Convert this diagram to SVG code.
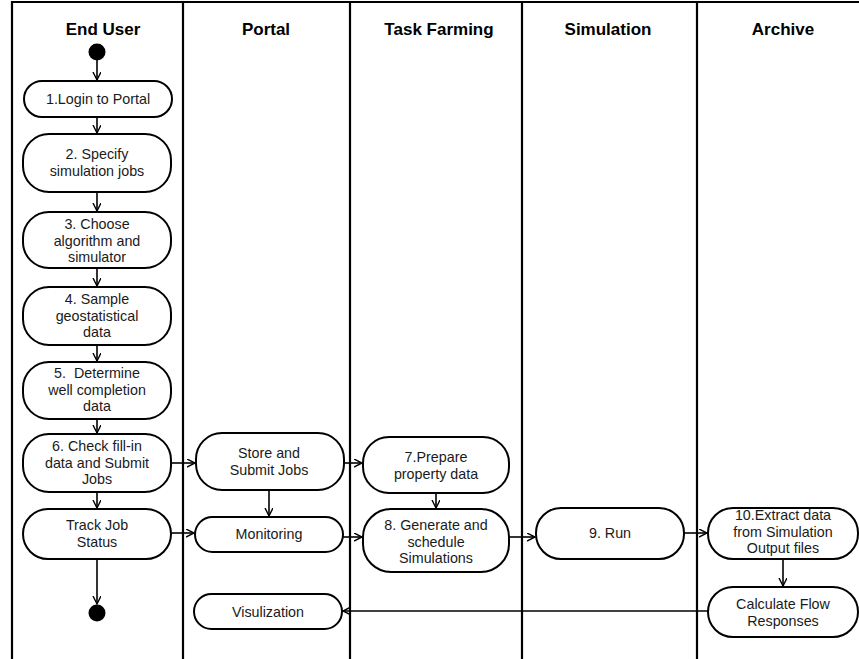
<svg xmlns="http://www.w3.org/2000/svg" width="859" height="659" viewBox="0 0 859 659">
<style>
.lane{stroke:#000;stroke-width:2.2;fill:none}
.hdr{font-family:"Liberation Sans",Arial,sans-serif;font-size:17px;font-weight:bold;text-anchor:middle;fill:#000}
.box{fill:#fff;stroke:#000;stroke-width:2}
.t{font-family:"Liberation Sans",Arial,sans-serif;font-size:14.3px;text-anchor:middle;fill:#1a1a1a;white-space:pre}
.c{stroke:#000;stroke-width:1.6;fill:none;marker-end:url(#arr)}
.dot{fill:#000}
</style>
<defs>
<marker id="arr" markerWidth="10" markerHeight="10" refX="8" refY="4" orient="auto" markerUnits="userSpaceOnUse">
<path d="M0,0 L8,4 L0,8" fill="none" stroke="#000" stroke-width="1.4"/>
</marker>
</defs>
<rect width="859" height="659" fill="#fff"/>
<g id="lanes">
<path class="lane" d="M12,659 V2 H859"/>
<path class="lane" d="M183,2 V659 M350,2 V659 M522,2 V659 M697,2 V659"/>
<text class="hdr" x="103" y="35">End User</text>
<text class="hdr" x="266" y="35">Portal</text>
<text class="hdr" x="439" y="35">Task Farming</text>
<text class="hdr" x="608" y="35">Simulation</text>
<text class="hdr" x="783" y="35">Archive</text>
</g>
<g id="connectors">
<path class="c" d="M97,58 V80"/>
<path class="c" d="M97,117 V133"/>
<path class="c" d="M97,192 V211"/>
<path class="c" d="M97,268 V286"/>
<path class="c" d="M97,345 V361"/>
<path class="c" d="M97,419 V433"/>
<path class="c" d="M97,492 V508"/>
<path class="c" d="M97,559 V604"/>
<path class="c" d="M172,463 H195"/>
<path class="c" d="M344,463 H362"/>
<path class="c" d="M269,490 V516"/>
<path class="c" d="M171,533 H194"/>
<path class="c" d="M343,537 H362"/>
<path class="c" d="M436,493 V508"/>
<path class="c" d="M509,537 H535"/>
<path class="c" d="M684,533 H707"/>
<path class="c" d="M783,559 V586"/>
<path class="c" d="M708,611 H343"/>
</g>
<g id="start"><circle class="dot" cx="97" cy="52" r="8.5"/></g>
<g id="n1"><rect class="box" x="24" y="81" width="148" height="36" rx="18"/><text class="t" x="98" y="104">1.Login to Portal</text></g>
<g id="n2"><rect class="box" x="23" y="134" width="148" height="58" rx="26"/><text class="t" x="97" y="159">2. Specify</text><text class="t" x="97" y="176">simulation jobs</text></g>
<g id="n3"><rect class="box" x="23" y="212" width="148" height="56" rx="26"/><text class="t" x="97" y="229">3. Choose</text><text class="t" x="97" y="245.5">algorithm and</text><text class="t" x="97" y="262">simulator</text></g>
<g id="n4"><rect class="box" x="23" y="287" width="148" height="58" rx="26"/><text class="t" x="97" y="304">4. Sample</text><text class="t" x="97" y="320.5">geostatistical</text><text class="t" x="97" y="337">data</text></g>
<g id="n5"><rect class="box" x="23" y="362" width="148" height="57" rx="26"/><text class="t" x="97" y="378" xml:space="preserve">5.  Determine</text><text class="t" x="97" y="394.5">well completion</text><text class="t" x="97" y="411">data</text></g>
<g id="n6"><rect class="box" x="23" y="434" width="148" height="58" rx="26"/><text class="t" x="97" y="451">6. Check fill-in</text><text class="t" x="97" y="467.5">data and Submit</text><text class="t" x="97" y="484">Jobs</text></g>
<g id="n7"><rect class="box" x="23" y="509" width="148" height="50" rx="25"/><text class="t" x="97" y="530">Track Job</text><text class="t" x="97" y="546.5">Status</text></g>
<g id="end"><circle class="dot" cx="97" cy="613" r="8.5"/></g>
<g id="p1"><rect class="box" x="196" y="433" width="148" height="57" rx="26"/><text class="t" x="269" y="458">Store and</text><text class="t" x="269" y="474.5">Submit Jobs</text></g>
<g id="p2"><rect class="box" x="195" y="517" width="148" height="35" rx="17.5"/><text class="t" x="269" y="539">Monitoring</text></g>
<g id="p3"><rect class="box" x="194" y="594" width="148" height="35" rx="17.5"/><text class="t" x="268" y="617">Visulization</text></g>
<g id="t1"><rect class="box" x="363" y="437" width="146" height="56" rx="26"/><text class="t" x="436" y="462">7.Prepare</text><text class="t" x="436" y="478.5">property data</text></g>
<g id="t2"><rect class="box" x="363" y="509" width="146" height="63" rx="28"/><text class="t" x="436" y="530">8. Generate and</text><text class="t" x="436" y="546.5">schedule</text><text class="t" x="436" y="563">Simulations</text></g>
<g id="s1"><rect class="box" x="536" y="508" width="148" height="51" rx="25"/><text class="t" x="610" y="538">9. Run</text></g>
<g id="a1"><rect class="box" x="708" y="508" width="150" height="51" rx="25"/><text class="t" x="783" y="520">10.Extract data</text><text class="t" x="783" y="536.5">from Simulation</text><text class="t" x="783" y="553">Output files</text></g>
<g id="a2"><rect class="box" x="708" y="587" width="150" height="50" rx="25"/><text class="t" x="783" y="609">Calculate Flow</text><text class="t" x="783" y="625.5">Responses</text></g>
</svg>
